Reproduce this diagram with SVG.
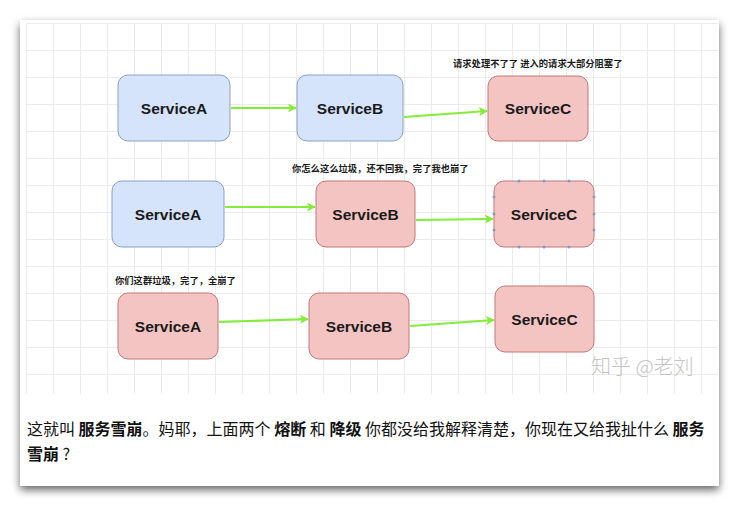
<svg xmlns="http://www.w3.org/2000/svg" width="739" height="507" viewBox="0 0 739 507">
<style>
.blue{fill:#d5e4fa;stroke:#8aa0c4;stroke-width:1}
.red{fill:#f4c4c3;stroke:#c07a77;stroke-width:1}
.nt{font-family:"Liberation Sans",Arial,sans-serif;font-weight:bold;font-size:15.5px;fill:#1a1a1a;text-anchor:middle;dominant-baseline:central}
.lbl{font-family:"Noto Sans CJK SC","Liberation Sans",sans-serif;font-weight:bold;font-size:9.3px;fill:#1a1a1a}
.edge{stroke:#84ec3a;stroke-width:2.2;fill:none;marker-end:url(#ah)}
.body{font-family:"Noto Sans CJK SC","Liberation Sans",sans-serif;font-size:16px;fill:#111}
.b{font-weight:bold}
.grid{stroke:#ebebeb;stroke-width:1}
.hd{fill:#7f9cc9}
</style>
<defs>
<filter id="sh" x="-5%" y="-5%" width="110%" height="115%">
<feDropShadow dx="0" dy="4" stdDeviation="4.5" flood-color="#000" flood-opacity="0.6"/>
</filter>
<marker id="ah" viewBox="0 0 10 10" refX="9" refY="5" markerWidth="10" markerHeight="9" markerUnits="userSpaceOnUse" orient="auto">
<path d="M0,0 L10,5 L0,10 L2.5,5 Z" fill="#84ec3a"/>
</marker>
<pattern id="gp" x="26" y="23" width="27" height="27" patternUnits="userSpaceOnUse">
<path d="M0,0.5 H27 M0.5,0 V27" class="grid"/>
</pattern>
</defs>
<rect x="0" y="0" width="739" height="507" fill="#fff"/>
<rect x="20" y="20" width="699" height="466" fill="#fff" filter="url(#sh)"/>
<rect x="26" y="23" width="692" height="371" fill="url(#gp)"/>

<g id="connectors">
<line class="edge" x1="231" y1="108" x2="296" y2="108"/>
<line class="edge" x1="404" y1="117" x2="487" y2="111"/>
<line class="edge" x1="225" y1="207" x2="315" y2="207"/>
<line class="edge" x1="416" y1="220" x2="493" y2="219"/>
<line class="edge" x1="219" y1="322" x2="308" y2="319"/>
<line class="edge" x1="410" y1="326" x2="494" y2="320"/>
</g>

<g id="r1a"><rect class="blue" x="118" y="75" width="112" height="66" rx="10"/><text class="nt" x="174" y="108">ServiceA</text></g>
<g id="r1b"><rect class="blue" x="297" y="75" width="106" height="66" rx="10"/><text class="nt" x="350" y="108">ServiceB</text></g>
<g id="r1c"><rect class="red" x="488" y="76" width="100" height="65" rx="10"/><text class="nt" x="538" y="108.5">ServiceC</text></g>
<text class="lbl" x="453" y="66.5">请求处理不了了 进入的请求大部分阻塞了</text>

<g id="r2a"><rect class="blue" x="112" y="181" width="112" height="66" rx="10"/><text class="nt" x="168" y="214">ServiceA</text></g>
<g id="r2b"><rect class="red" x="316" y="181" width="99" height="66" rx="10"/><text class="nt" x="365.5" y="214">ServiceB</text></g>
<g id="r2c"><rect class="red" x="494" y="181" width="100" height="66" rx="10"/><text class="nt" x="544" y="214">ServiceC</text>
<g class="hd">
<circle cx="519" cy="181" r="1.5"/><circle cx="544" cy="181" r="1.5"/><circle cx="569" cy="181" r="1.5"/>
<circle cx="519" cy="247" r="1.5"/><circle cx="544" cy="247" r="1.5"/><circle cx="569" cy="247" r="1.5"/>
<circle cx="494" cy="197" r="1.5"/><circle cx="494" cy="214" r="1.5"/><circle cx="494" cy="230" r="1.5"/>
<circle cx="594" cy="197" r="1.5"/><circle cx="594" cy="214" r="1.5"/><circle cx="594" cy="230" r="1.5"/>
</g></g>
<text class="lbl" x="292" y="171.5">你怎么这么垃圾，还不回我，完了我也崩了</text>

<g id="r3a"><rect class="red" x="118" y="293" width="100" height="66" rx="10"/><text class="nt" x="168" y="326">ServiceA</text></g>
<g id="r3b"><rect class="red" x="309" y="293" width="100" height="66" rx="10"/><text class="nt" x="359" y="326">ServiceB</text></g>
<g id="r3c"><rect class="red" x="495" y="286" width="99" height="66" rx="10"/><text class="nt" x="544.5" y="319">ServiceC</text></g>
<text class="lbl" x="115" y="283.5">你们这群垃圾，完了，全崩了</text>

<text x="591" y="374" font-family="'Noto Sans CJK SC',sans-serif" font-weight="300" font-size="20" fill="#c4c4c4">知乎 @老刘</text>

<text class="body" x="27" y="435">这就叫 <tspan class="b">服务雪崩</tspan>。妈耶，上面两个 <tspan class="b">熔断</tspan> 和 <tspan class="b">降级</tspan> 你都没给我解释清楚，你现在又给我扯什么 <tspan class="b">服务</tspan></text>
<text class="body" x="27" y="460"><tspan class="b">雪崩</tspan> ?</text>
</svg>
